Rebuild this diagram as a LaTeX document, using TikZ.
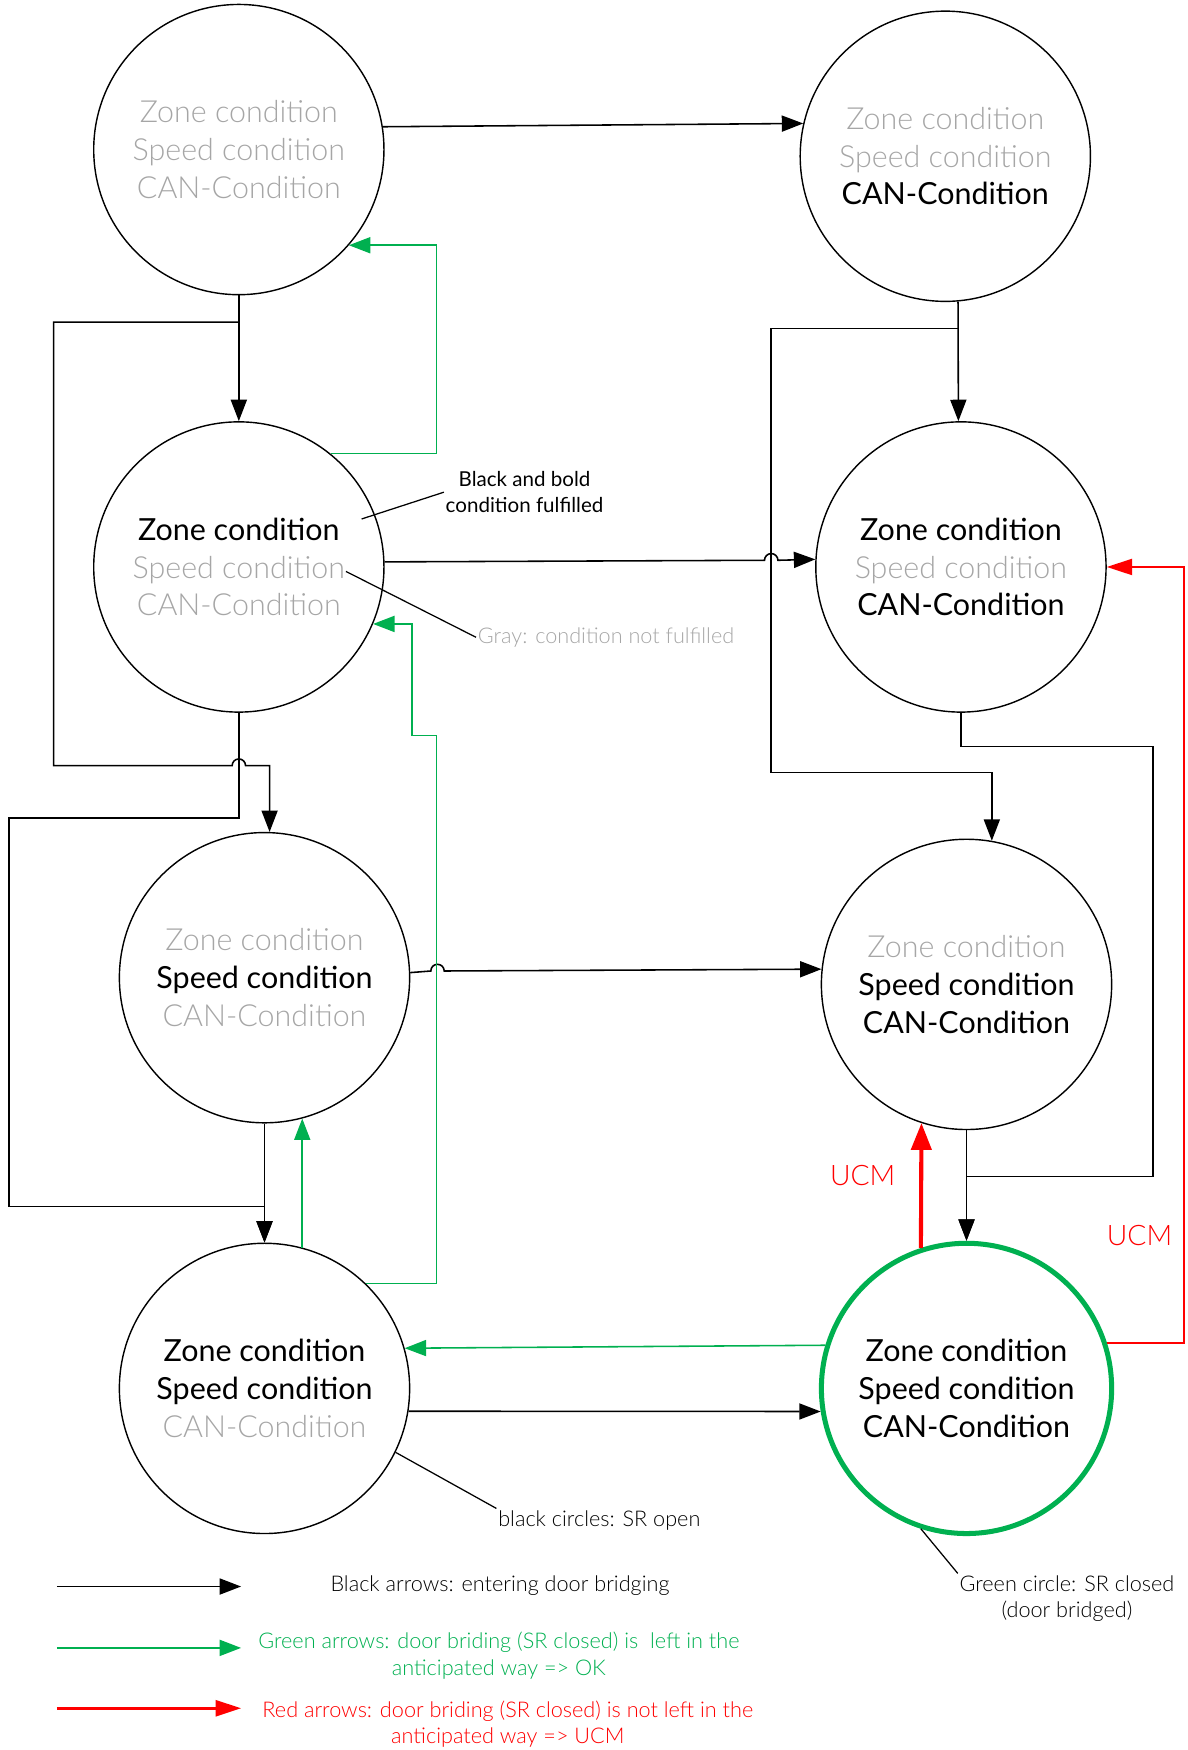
\documentclass[tikz,border=0pt]{standalone}
\usepackage{fontspec}
\setmainfont{Lato}
\newfontfamily\lightfont{Lato Light}
\usepackage{tikz}
\usetikzlibrary{arrows.meta, calc}
\definecolor{srGreen}{HTML}{00B050}
\definecolor{srRed}{HTML}{FF0000}
\definecolor{srGray}{HTML}{A6A6A6}
\newcommand{\cok}[1]{\textcolor{black}{#1}}
\newcommand{\cnok}[1]{{\lightfont\textcolor{srGray}{#1}}}

\begin{document}
\begin{tikzpicture}[x=0.025cm, y=-0.025cm,
    state/.style={circle, draw, line width=0.9pt, minimum size=6.5cm, inner sep=0pt,
                  align=center, font=\fontsize{19.4}{24}\selectfont},
    bridged/.style={state, draw=srGreen, line width=3.2pt},
    entry/.style={-{Triangle[length=0.48cm, width=0.36cm]}, line width=1pt},
    leave/.style={entry, srGreen},
    ucmarrow/.style={-{Triangle[length=0.57cm, width=0.36cm]}, srRed, line width=1.3pt},
    ucmthick/.style={-{Triangle[length=0.6cm, width=0.45cm]}, srRed, line width=2.6pt},
    note/.style={font=\lightfont\fontsize{13.8}{16.7}\selectfont, align=center, inner sep=1pt},
    ucmlabel/.style={text=srRed, font=\lightfont\fontsize{18}{20}\selectfont}]
  \useasboundingbox (0,0) rectangle (1064,1568);

  \node[state] (c1) at (214,134) {\cnok{Zone condition}\\\cnok{Speed condition}\\\cnok{CAN-Condition}};
  \node[state] (c2) at (847,140) {\cnok{Zone condition}\\\cnok{Speed condition}\\\cok{CAN-Condition}};
  \node[state] (c3) at (214,508) {\cok{Zone condition}\\\cnok{Speed condition}\\\cnok{CAN-Condition}};
  \node[state] (c4) at (861,508) {\cok{Zone condition}\\\cnok{Speed condition}\\\cok{CAN-Condition}};
  \node[state] (c5) at (237,876) {\cnok{Zone condition}\\\cok{Speed condition}\\\cnok{CAN-Condition}};
  \node[state] (c6) at (866,882) {\cnok{Zone condition}\\\cok{Speed condition}\\\cok{CAN-Condition}};
  \node[state] (c7) at (237,1244) {\cok{Zone condition}\\\cok{Speed condition}\\\cnok{CAN-Condition}};
  \node[bridged] (c8) at (866,1244) {\cok{Zone condition}\\\cok{Speed condition}\\\cok{CAN-Condition}};

  \draw[entry] (c1.9.7) -- (c2.167.6);
  \draw[entry] (c1.south) -- (c3.north);
  \draw[entry] ($(c1.south)+(0,24)$) -- ++(-166,0) |- (208,686)
    arc[start angle=180, end angle=0, radius=0.15cm] -| (c5.88.2);
  \draw[entry] (c3.south) -- ++(0,94) -| (8,1081) -| (c7.north);
  \draw[entry] (c5.south) -- (c7.north);
  \draw[entry] (c3.2.6) -- (685,502) arc[start angle=180, end angle=0, radius=0.15cm] -- (c4.177.4);
  \draw[entry] (c2.-85.6) -- (c4.91.8);
  \draw[entry] ($(c2.-85.6)+(0,24)$) -| (691,692) -| (c6.80.7);
  \draw[entry] (c4.south) -- ++(0,30) -| (1033,1054) -| (c8.north);
  \draw[entry] (c6.south) -- (c8.north);
  \draw[entry] (c5.2.6) -- (386,870) arc[start angle=180, end angle=0, radius=0.15cm] -- (c6.174.7);
  \draw[entry] (c7.-9) -- (c8.189);

  \draw[leave] (c3.51) -- ++(95,0) |- (c1.-41.2);
  \draw[leave] (c7.46.9) -| (391,659) -- (369,659) |- (c3.-23.2);
  \draw[leave] (c7.75.9) -- (c5.-75.9);
  \draw[leave] (c8.163.3) -- (c7.16.7);

  \draw[ucmthick] (c8.108.1) -- (c6.-108.1);
  \draw[ucmarrow] (c8.18.1) -- ++(69,0) |- (c4.east);
  \node[ucmlabel] (ucm1) at (773,1053) {UCM};
  \node[ucmlabel] (ucm2) at (1021,1107) {UCM};

  \node[note, font=\fontsize{13.1}{16.5}\selectfont] (boldnote) at (470,441) {Black and bold\\condition fulfilled};
  \coordinate (boldtip) at (324,465);
  \draw[line width=0.8pt] (boldtip) -- (boldnote.west);
  \node[note, text=srGray] (graynote) at (543,571) {Gray: condition not fulfilled};
  \coordinate (graytip) at (310,512);
  \draw[line width=0.8pt] (graytip) -- (graynote.west);
  \node[note] (opennote) at (537,1362) {black circles: SR open};
  \draw[line width=0.8pt] (c7.-26.6) -- (opennote.north west);
  \node[note] (closednote) at (956,1432) {Green circle: SR closed\\(door bridged)};
  \draw[line width=0.8pt] (c8.-108.1) -- (closednote.north west);

  \coordinate (lk0) at (51,1421.5);
  \coordinate (lk1) at (216,1421.5);
  \draw[entry] (lk0) -- (lk1);
  \node[note] (lktext) at (448,1421) {Black arrows: entering door bridging};
  \coordinate (lg0) at (51,1476.5);
  \coordinate (lg1) at (216,1476.5);
  \draw[leave] (lg0) -- (lg1);
  \node[note, text=srGreen] (lgtext) at (447,1483.5) {Green arrows: door briding (SR closed) is~ left in the\\anticipated way => OK};
  \coordinate (lr0) at (51,1530.6);
  \coordinate (lr1) at (216,1530.6);
  \draw[ucmarrow, line width=1.6pt] (lr0) -- (lr1);
  \node[note, text=srRed] (lrtext) at (455,1545) {Red arrows: door briding (SR closed) is not left in the\\anticipated way => UCM};
\end{tikzpicture}
\end{document}
